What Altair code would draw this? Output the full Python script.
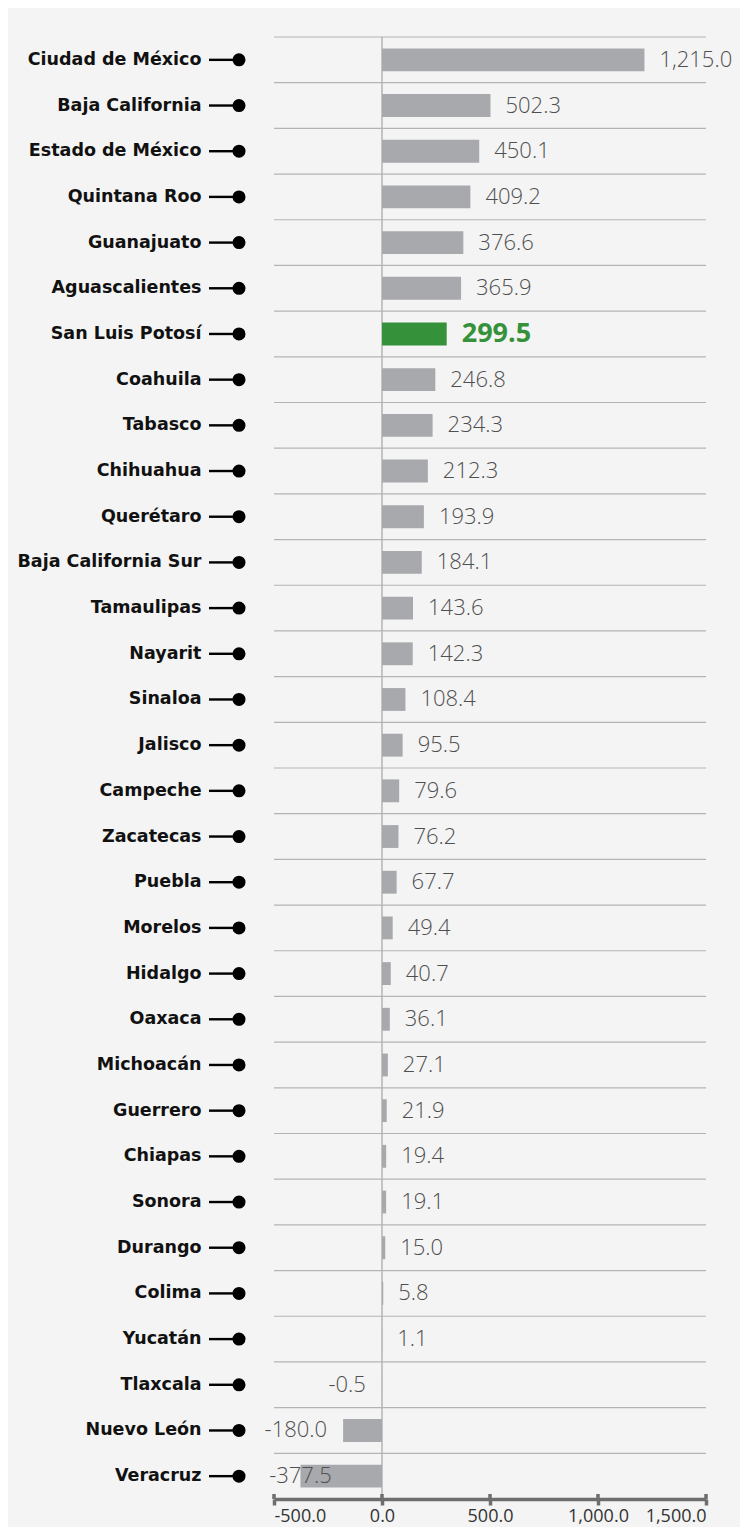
import altair as alt
import pandas as pd

states = ["Ciudad de México", "Baja California", "Estado de México", "Quintana Roo",
          "Guanajuato", "Aguascalientes", "San Luis Potosí", "Coahuila", "Tabasco",
          "Chihuahua", "Querétaro", "Baja California Sur\u00a0", "Tamaulipas", "Nayarit",
          "Sinaloa", "Jalisco", "Campeche", "Zacatecas", "Puebla", "Morelos", "Hidalgo",
          "Oaxaca", "Michoacán", "Guerrero", "Chiapas", "Sonora", "Durango", "Colima",
          "Yucatán", "Tlaxcala", "Nuevo León", "Veracruz"]
values = [1215.0, 502.3, 450.1, 409.2, 376.6, 365.9, 299.5, 246.8, 234.3, 212.3, 193.9,
          184.1, 143.6, 142.3, 108.4, 95.5, 79.6, 76.2, 67.7, 49.4, 40.7, 36.1, 27.1,
          21.9, 19.4, 19.1, 15.0, 5.8, 1.1, -0.5, -180.0, -377.5]
highlight = "San Luis Potosí"
x_ticks = [-500, 0, 500, 1000, 1500]

df = pd.DataFrame({"state": states, "v": values})
df["hl"] = df["state"] == highlight
ticks_df = pd.DataFrame({"t": x_ticks})

W, H = 432, 1462
STEP = H / len(states)

BAR_GRAY = "#a8a9ac"
GREEN = "#35923a"
TEXT_GRAY = "#4f4f4f"
GRID = "#b4b4b4"
AXIS = "#6e6e6e"

yenc = alt.Y("state:N", sort=None, title=None,
             scale=alt.Scale(paddingInner=0.5, paddingOuter=0.25),
             axis=alt.Axis(domain=False, ticks=False, labelPadding=73,
                           labelFont="DejaVu Sans", labelFontSize=17.5,
                           labelFontWeight="bold", labelColor="#111111",
                           labelLimit=300))
xscale = alt.Scale(domain=[-500, 1500], nice=False, zero=False)

base = alt.Chart(df)

grid = base.mark_rule(color=GRID, strokeWidth=1.2, yOffset=-STEP / 2).encode(
    y=yenc, x=alt.datum(-500, scale=xscale), x2=alt.datum(1500)
)

zero = alt.Chart(ticks_df).transform_filter("datum.t == 0").mark_rule(
    color=GRID, strokeWidth=1.5).encode(
    x=alt.X("t:Q", scale=xscale), y=alt.value(0), y2=alt.value(H)
)

bars = base.mark_bar().encode(
    y=yenc,
    x=alt.X("v:Q", scale=xscale, title=None,
            axis=alt.Axis(values=x_ticks, grid=False, domainColor=AXIS, domainWidth=3.5,
                          tickColor=AXIS, tickWidth=3.5, tickSize=6, labelPadding=2,
                          labelFont="Open Sans", labelFontSize=18, labelColor="#333333",
                          labelExpr="replace(format(datum.value, ',.1f'), '\u2212', '-')")),
    color=alt.condition("datum.hl", alt.value(GREEN), alt.value(BAR_GRAY)),
)

tick_up = alt.Chart(ticks_df).mark_rule(color=AXIS, strokeWidth=3.5).encode(
    x=alt.X("t:Q", scale=xscale), y=alt.value(H - 5), y2=alt.value(H)
)

label_calc = "replace(format(datum.v, ',.1f'), '\u2212', '-')"

pos_text = base.transform_filter("datum.v >= 0 && !datum.hl").transform_calculate(
    lab=label_calc).mark_text(align="left", baseline="middle", dx=15, font="Open Sans",
                               fontSize=22, fontWeight=300, color=TEXT_GRAY).encode(
    y=yenc, x=alt.X("v:Q", scale=xscale), text="lab:N")

hl_text = base.transform_filter("datum.hl").transform_calculate(
    lab=label_calc).mark_text(align="left", baseline="middle", dx=15, font="Open Sans",
                               fontSize=27, fontWeight="bold", color=GREEN).encode(
    y=yenc, x=alt.X("v:Q", scale=xscale), text="lab:N")

neg_text = base.transform_filter("datum.v < 0 && datum.v > -300").transform_calculate(
    lab=label_calc).mark_text(align="right", baseline="middle", dx=-16, font="Open Sans",
                               fontSize=22, fontWeight=300, color=TEXT_GRAY).encode(
    y=yenc, x=alt.X("v:Q", scale=xscale), text="lab:N")

neg_text2 = base.transform_filter("datum.v <= -300").transform_calculate(
    lab=label_calc).mark_text(align="center", baseline="middle", dx=0, font="Open Sans",
                               fontSize=22, fontWeight=300, color=TEXT_GRAY).encode(
    y=yenc, x=alt.X("v:Q", scale=xscale), text="lab:N")

connector = base.mark_rule(color="#000000", strokeWidth=2.4).encode(
    y=yenc, x=alt.value(-65), x2=alt.value(-40))

dots = base.mark_circle(color="#000000", opacity=1, size=170).encode(
    y=yenc, x=alt.value(-35))

chart = alt.layer(grid, zero, bars, tick_up, pos_text, hl_text, neg_text, neg_text2,
                  connector, dots).properties(
    width=W, height=H,
    padding={"left": 266, "top": 29, "right": 34, "bottom": 28},
    autosize=alt.AutoSizeParams(type="none"),
).configure(background="#f4f4f4").configure_view(stroke=None)

chart.save("out.html", embed_options={"renderer": "svg", "actions": False})
